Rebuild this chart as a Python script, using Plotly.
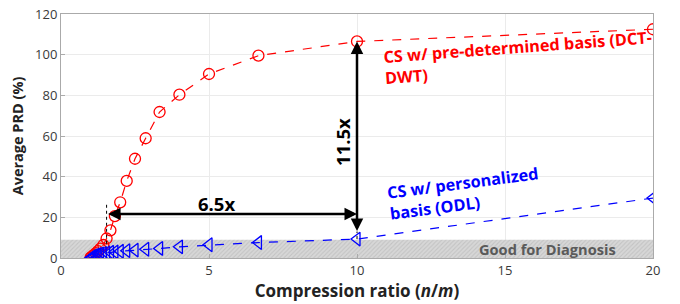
import plotly.graph_objects as go

# Compression ratios n/m (m/n = 0.05 ... 1.0)
ratio = [20, 10, 6.67, 5, 4, 3.33, 2.86, 2.5, 2.22, 2.0, 1.82, 1.67, 1.54, 1.43, 1.33, 1.25, 1.18, 1.11, 1.05, 1.0]
prd_dct_dwt = [112.5, 106.5, 99.5, 90.5, 80.3, 71.8, 58.9, 48.8, 37.9, 27.4, 20.6, 13.6, 9.6, 6.4, 4.6, 3.4, 2.4, 1.5, 0.8, 0.2]
prd_odl = [29.5, 9.3, 7.6, 6.5, 5.5, 4.7, 4.3, 3.9, 3.6, 3.3, 3.0, 2.8, 2.5, 2.2, 2.0, 1.7, 1.4, 1.0, 0.5, 0.0]

GOOD_PRD = 9
x_ticks = [0, 5, 10, 15, 20]
y_ticks = [0, 20, 40, 60, 80, 100, 120]

BOLD = "Open Sans"

fig = go.Figure()

# Good-for-diagnosis band
fig.add_trace(go.Scatter(
    x=[0, 20, 20, 0, 0], y=[0, 0, GOOD_PRD, GOOD_PRD, 0],
    mode="lines", line=dict(width=0), fill="toself",
    fillcolor="rgba(190,190,190,1)",
    fillpattern=dict(shape="/", bgcolor="rgb(215,215,215)", fgcolor="rgb(175,175,175)", size=3, solidity=0.35),
    hoverinfo="skip", showlegend=False))

fig.add_trace(go.Scatter(
    x=ratio, y=prd_dct_dwt, mode="lines+markers",
    line=dict(color="red", dash="dash", width=1.2),
    marker=dict(symbol="circle-open", size=11, color="red", line=dict(width=1.3)),
    showlegend=False))

fig.add_trace(go.Scatter(
    x=ratio, y=prd_odl, mode="lines+markers",
    line=dict(color="blue", dash="dash", width=1.2),
    marker=dict(symbol="triangle-left-open", size=12, color="blue", line=dict(width=1.3)),
    showlegend=False))

# dotted guides
fig.add_trace(go.Scatter(x=[1.54, 1.54], y=[7, 27], mode="lines",
                         line=dict(color="black", dash="dot", width=1), showlegend=False, hoverinfo="skip"))
fig.add_trace(go.Scatter(x=[10, 10], y=[9.3, 13], mode="lines",
                         line=dict(color="black", dash="dot", width=1), showlegend=False, hoverinfo="skip"))

ann = []
# horizontal double arrow
ann.append(dict(x=10, y=21.6, ax=1.54, ay=21.6, xref="x", yref="y", axref="x", ayref="y",
                showarrow=True, arrowhead=2, startarrowhead=2, arrowside="end+start",
                arrowsize=1, arrowwidth=2.5, arrowcolor="black", text=""))
# vertical double arrow
ann.append(dict(x=10, y=106.5, ax=10, ay=12.6, xref="x", yref="y", axref="x", ayref="y",
                showarrow=True, arrowhead=2, startarrowhead=2, arrowside="end+start",
                arrowsize=1, arrowwidth=2.5, arrowcolor="black", text=""))
ann.append(dict(x=5.27, y=26.8, xref="x", yref="y", text="<b>6.5x</b>", showarrow=False,
                font=dict(family=BOLD, size=18.5, color="black")))
ann.append(dict(x=9.5, y=57.2, xref="x", yref="y", text="<b>11.5x</b>", showarrow=False, textangle=-90,
                font=dict(family=BOLD, size=18.5, color="black")))
ann.append(dict(x=15.47, y=98.5, xref="x", yref="y",
                text="<b>CS w/ pre-determined basis (DCT-<br>DWT)</b>", showarrow=False, align="left",
                textangle=-4.2, font=dict(family=BOLD, size=16.3, color="red")))
ann.append(dict(x=13.6, y=31.5, xref="x", yref="y",
                text="<b>CS w/ personalized<br>basis (ODL)</b>", showarrow=False, align="left",
                textangle=-7.4, font=dict(family=BOLD, size=16.3, color="blue")))
ann.append(dict(x=16.42, y=4.4, xref="x", yref="y", text="<b>Good for Diagnosis</b>", showarrow=False,
                font=dict(family=BOLD, size=14.6, color="rgb(90,90,90)")))

fig.update_layout(
    width=680, height=304,
    margin=dict(l=61, r=27, t=5, b=46),
    plot_bgcolor="white", paper_bgcolor="white",
    font=dict(family="Open Sans", size=13, color="#3a3a3a"),
    annotations=ann,
    xaxis=dict(range=[0, 20], tickvals=x_ticks, showgrid=True, gridcolor="rgb(235,235,235)",
               showline=True, linecolor="rgb(170,170,170)", mirror=True, ticks="inside", ticklen=4,
               tickcolor="rgb(170,170,170)", zeroline=False, ticklabeloverflow="allow",
               title=dict(text="<b>Compression ratio (<i>n</i>/<i>m</i>)</b>", standoff=6,
                          font=dict(family=BOLD, size=17, color="#222"))),
    yaxis=dict(range=[0, 120], tickvals=y_ticks, showgrid=True, gridcolor="rgb(235,235,235)",
               showline=True, linecolor="rgb(170,170,170)", mirror=True, ticks="inside", ticklen=4,
               tickcolor="rgb(170,170,170)", zeroline=False, ticklabeloverflow="allow",
               title=dict(text="<b>Average PRD (%)</b>", standoff=8,
                          font=dict(family=BOLD, size=14.5, color="#222"))),
)

fig.write_html("out.html", config={"displayModeBar": False},
               post_script="document.body.style.margin='0';")
